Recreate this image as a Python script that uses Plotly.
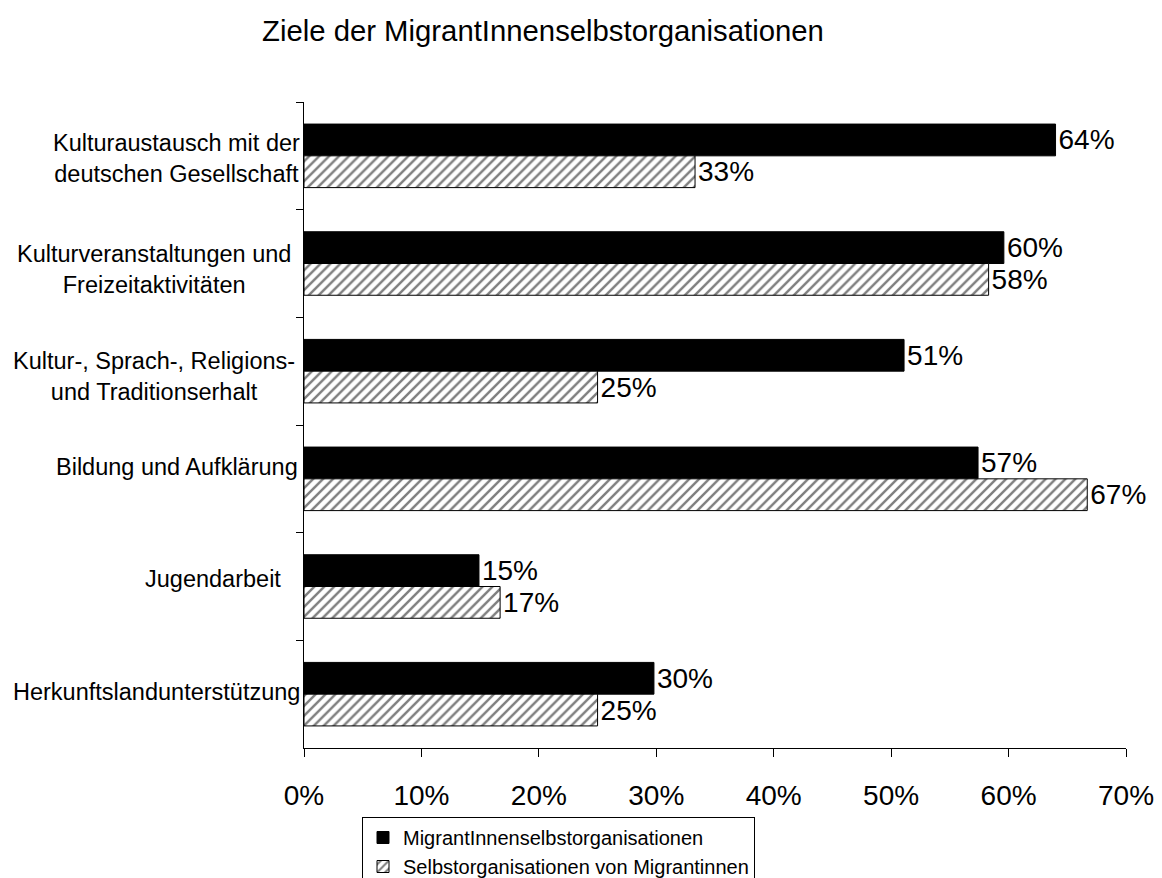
import plotly.graph_objects as go

categories = [
    "Kulturaustausch mit der<br>deutschen Gesellschaft",
    "Kulturveranstaltungen und<br>Freizeitaktivitäten",
    "Kultur-, Sprach-, Religions-<br>und Traditionserhalt",
    "Bildung und Aufklärung",
    "Jugendarbeit",
    "Herkunftslandunterstützung",
]
cat_keys = ["c1", "c2", "c3", "c4", "c5", "c6"]
series1_name = "MigrantInnenselbstorganisationen"
series1 = [64.0, 59.6, 51.1, 57.4, 14.9, 29.8]
series2_name = "Selbstorganisationen von Migrantinnen"
series2 = [33.3, 58.3, 25.0, 66.7, 16.7, 25.0]
x_ticks = [0, 10, 20, 30, 40, 50, 60, 70]
x_ticklabels = [f"{t}%" for t in x_ticks]

# label offsets relative to the axis / category centre (styling only)
label_xshift = {"c1": -2, "c2": -11, "c3": -7, "c4": -4, "c5": -21, "c6": -2}
label_yshift = {"c1": -3, "c2": -6, "c3": -5, "c4": 12, "c5": 8, "c6": 2}

FONT = "Liberation Sans, Arial, Helvetica, sans-serif"
OFF = 8  # page body margin in browser

fig = go.Figure()
fig.add_trace(go.Bar(
    y=cat_keys, x=series1, orientation="h", name=series1_name,
    marker=dict(color="black", line=dict(color="black", width=1)),
    text=[f"{round(v)}%" for v in series1], textposition="outside",
    textfont=dict(size=28, color="black", family=FONT),
    constraintext="none", cliponaxis=False, hoverinfo="skip",
))
fig.add_trace(go.Bar(
    y=cat_keys, x=series2, orientation="h", name=series2_name,
    marker=dict(color="white", line=dict(color="black", width=1),
                pattern=dict(shape="/", fgcolor="black", bgcolor="white",
                             size=7, solidity=0.35)),
    text=[f"{round(v)}%" for v in series2], textposition="outside",
    textfont=dict(size=28, color="black", family=FONT),
    constraintext="none", cliponaxis=False, hoverinfo="skip",
))

for key, label in zip(cat_keys, categories):
    fig.add_annotation(
        x=0, xref="paper", y=key, yref="y", text=label, showarrow=False,
        xanchor="right", align="center",
        xshift=label_xshift[key], yshift=label_yshift[key],
        font=dict(size=23.5, color="black", family=FONT),
    )

W, H = 1162 - OFF, 878 - OFF
fig.update_layout(
    width=W, height=H,
    margin=dict(l=304 - OFF, r=36, t=102 - OFF, b=130, autoexpand=False),
    paper_bgcolor="white", plot_bgcolor="white",
    font=dict(family=FONT, color="black"),
    barmode="group", bargap=0.41, bargroupgap=0,
    title=dict(text="Ziele der MigrantInnenselbstorganisationen",
               x=(262 - OFF) / W, xanchor="left", xref="container",
               y=1 - (31 - OFF) / H, yanchor="middle", yref="container",
               font=dict(size=29.3, color="black", family=FONT)),
    showlegend=True,
    legend=dict(x=(362 - 304) / 822, xanchor="left", y=-69 / 646, yanchor="top",
                orientation="v", bgcolor="white", bordercolor="black", borderwidth=1,
                font=dict(size=20, color="black", family=FONT),
                itemwidth=30, tracegroupgap=0),
    xaxis=dict(range=[0, 70], tickvals=x_ticks, ticktext=x_ticklabels,
               showgrid=False, zeroline=False, showline=True, linecolor="black",
               linewidth=1, ticks="outside", ticklen=8, tickcolor="black",
               ticklabelstandoff=14,
               tickfont=dict(size=28, color="black", family=FONT)),
    yaxis=dict(categoryorder="array", categoryarray=cat_keys, autorange="reversed",
               showticklabels=False, showgrid=False, zeroline=False,
               showline=True, linecolor="black", linewidth=1,
               ticks="outside", ticklen=7, tickcolor="black", tickson="boundaries"),
)

fig.write_html("out.html")
